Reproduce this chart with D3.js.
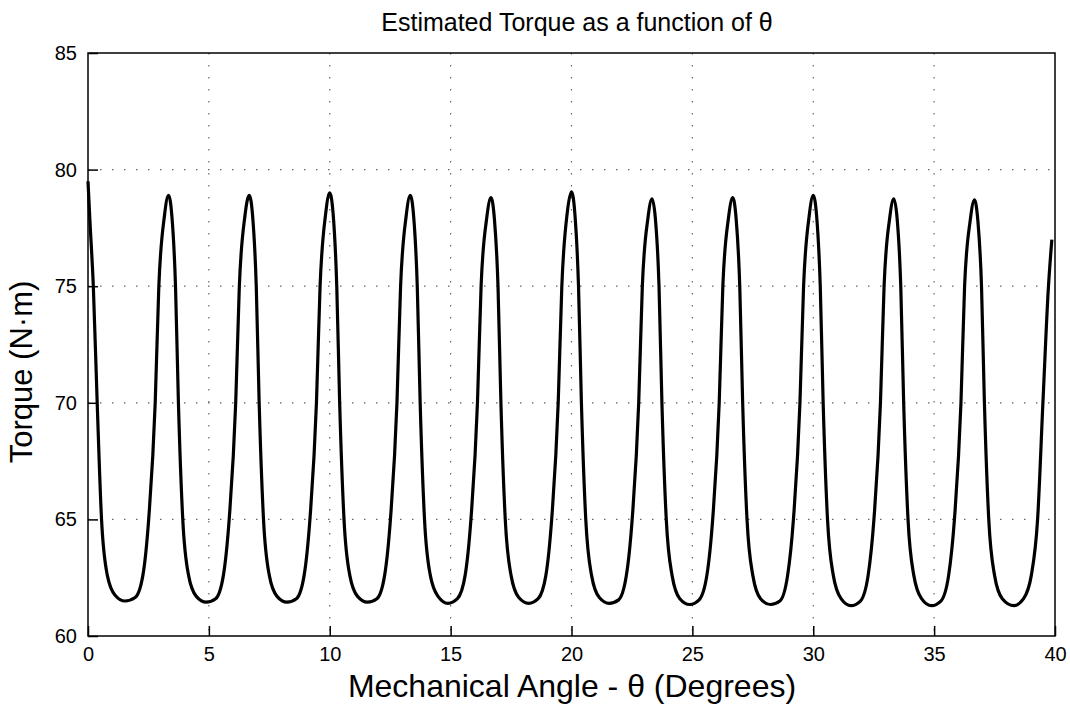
<!DOCTYPE html>
<html>
<head>
<meta charset="utf-8">
<script src="https://cdn.jsdelivr.net/npm/d3@7/dist/d3.min.js"></script>
<style>
body { margin: 0; background: #fff; }
svg { display: block; }
</style>
</head>
<body>
<svg width="1070" height="708"></svg>
<script>
// angle (degrees)
var theta = [
  0.00, 0.08, 0.22, 0.38, 0.56, 0.80, 1.12, 1.53, 1.95, 2.27, 2.51, 2.78, 2.93, 3.16,
  3.33, 3.47, 3.62, 3.74, 3.92, 4.16, 4.48, 4.89, 5.28, 5.60, 5.84, 6.11, 6.26, 6.49,
  6.67, 6.81, 6.96, 7.08, 7.26, 7.50, 7.82, 8.23, 8.62, 8.94, 9.18, 9.45, 9.60, 9.83,
  10.00, 10.14, 10.29, 10.41, 10.59, 10.83, 11.15, 11.56, 11.95, 12.27, 12.51, 12.78, 12.93, 13.16,
  13.33, 13.47, 13.62, 13.74, 13.92, 14.16, 14.48, 14.89, 15.28, 15.60, 15.84, 16.11, 16.26, 16.49,
  16.67, 16.81, 16.96, 17.08, 17.26, 17.50, 17.82, 18.23, 18.62, 18.94, 19.18, 19.45, 19.60, 19.83,
  20.00, 20.14, 20.29, 20.41, 20.59, 20.83, 21.15, 21.56, 21.95, 22.27, 22.51, 22.78, 22.93, 23.16,
  23.33, 23.47, 23.62, 23.74, 23.92, 24.16, 24.48, 24.89, 25.28, 25.60, 25.84, 26.11, 26.26, 26.49,
  26.67, 26.81, 26.96, 27.08, 27.26, 27.50, 27.82, 28.23, 28.62, 28.94, 29.18, 29.45, 29.60, 29.83,
  30.00, 30.14, 30.29, 30.41, 30.59, 30.83, 31.15, 31.56, 31.95, 32.27, 32.51, 32.78, 32.93, 33.16,
  33.33, 33.47, 33.62, 33.74, 33.92, 34.16, 34.48, 34.89, 35.28, 35.60, 35.84, 36.11, 36.26, 36.49,
  36.67, 36.81, 36.96, 37.08, 37.26, 37.50, 37.82, 38.30, 38.70, 39.02, 39.28, 39.50, 39.73, 39.87
];

// estimated torque (N.m)
var torque = [
  79.5, 77.8, 75.0, 70.0, 65.0, 62.6, 61.75, 61.5, 61.65, 62.6, 65.0, 70.0, 75.0, 78.0,
  78.9, 78.0, 75.0, 70.0, 65.0, 62.6, 61.7, 61.45, 61.6, 62.6, 65.0, 70.0, 75.0, 78.0,
  78.9, 78.0, 75.0, 70.0, 65.0, 62.6, 61.7, 61.45, 61.6, 62.6, 65.0, 70.0, 75.0, 78.1,
  79.0, 78.1, 75.0, 70.0, 65.0, 62.6, 61.7, 61.45, 61.6, 62.6, 65.0, 70.0, 75.0, 78.0,
  78.9, 78.0, 75.0, 70.0, 65.0, 62.6, 61.7, 61.4, 61.6, 62.6, 65.0, 70.0, 75.0, 77.9,
  78.8, 77.9, 75.0, 70.0, 65.0, 62.6, 61.65, 61.4, 61.6, 62.6, 65.0, 70.0, 75.0, 78.2,
  79.05, 78.1, 75.0, 70.0, 65.0, 62.6, 61.65, 61.4, 61.55, 62.6, 65.0, 70.0, 75.0, 77.9,
  78.75, 77.9, 75.0, 70.0, 65.0, 62.6, 61.6, 61.35, 61.55, 62.6, 65.0, 70.0, 75.0, 77.9,
  78.8, 77.9, 75.0, 70.0, 65.0, 62.6, 61.6, 61.35, 61.5, 62.6, 65.0, 70.0, 75.0, 78.0,
  78.9, 78.0, 75.0, 70.0, 65.0, 62.6, 61.6, 61.3, 61.5, 62.6, 65.0, 70.0, 75.0, 77.9,
  78.75, 77.9, 75.0, 70.0, 65.0, 62.6, 61.6, 61.3, 61.5, 62.6, 65.0, 70.0, 75.0, 77.8,
  78.7, 77.8, 75.0, 70.0, 65.0, 62.6, 61.6, 61.3, 61.6, 62.6, 65.0, 70.0, 75.0, 77.0
];

var xTicks = [0, 5, 10, 15, 20, 25, 30, 35, 40];
var yTicks = [60, 65, 70, 75, 80, 85];

var svg = d3.select("svg");
var margin = {top: 53, right: 15, bottom: 72, left: 88};
var width = 1070 - margin.left - margin.right;
var height = 708 - margin.top - margin.bottom;
var font = "'Liberation Sans', Arial, sans-serif";

var xScale = d3.scaleLinear().domain([0, 40]).range([0, width]);
var yScale = d3.scaleLinear().domain([60, 85]).range([height, 0]);

var data = theta.map(function(t, i) { return {theta: t, torque: torque[i]}; });

var g = svg.append("g").attr("transform", "translate(" + margin.left + "," + margin.top + ")");

// dotted grid
g.append("g")
  .selectAll("line")
  .data(xTicks.slice(1, -1))
  .enter()
  .append("line")
  .attr("x1", function(d) { return xScale(d); })
  .attr("x2", function(d) { return xScale(d); })
  .attr("y1", 0)
  .attr("y2", height)
  .attr("stroke", "#666")
  .attr("stroke-width", 1.2)
  .attr("stroke-dasharray", "1.5,10.5");

g.append("g")
  .selectAll("line")
  .data(yTicks.slice(1, -1))
  .enter()
  .append("line")
  .attr("y1", function(d) { return yScale(d); })
  .attr("y2", function(d) { return yScale(d); })
  .attr("x1", 0)
  .attr("x2", width)
  .attr("stroke", "#666")
  .attr("stroke-width", 1.2)
  .attr("stroke-dasharray", "1.5,10.5");

// axes with inward ticks
var xAxis = d3.axisBottom(xScale).tickValues(xTicks).tickSizeInner(-10).tickSizeOuter(0).tickPadding(11);
var yAxis = d3.axisLeft(yScale).tickValues(yTicks).tickSizeInner(-10).tickSizeOuter(0).tickPadding(11);

var gx = g.append("g").attr("transform", "translate(0," + height + ")").call(xAxis);
var gy = g.append("g").call(yAxis);

[gx, gy].forEach(function(a) {
  a.select(".domain").remove();
  a.selectAll("line").attr("stroke", "#000").attr("stroke-width", 1.5);
  a.selectAll("text")
    .attr("fill", "#000")
    .style("font-family", font)
    .style("font-size", "20px");
});

// frame
g.append("rect")
  .attr("x", 0)
  .attr("y", 0)
  .attr("width", width)
  .attr("height", height)
  .attr("fill", "none")
  .attr("stroke", "#000")
  .attr("stroke-width", 1.5);

// torque curve
var line = d3.line()
  .x(function(d) { return xScale(d.theta); })
  .y(function(d) { return yScale(d.torque); })
  .curve(d3.curveMonotoneX);

g.append("path")
  .datum(data)
  .attr("d", line)
  .attr("fill", "none")
  .attr("stroke", "#000")
  .attr("stroke-width", 3.2)
  .attr("stroke-linejoin", "round");

// titles
svg.append("text")
  .attr("x", 577)
  .attr("y", 31)
  .style("text-anchor", "middle")
  .style("font-family", font)
  .style("font-size", "25px")
  .text("Estimated Torque as a function of \u03b8");

svg.append("text")
  .attr("x", 572)
  .attr("y", 697)
  .style("text-anchor", "middle")
  .style("font-family", font)
  .style("font-size", "32px")
  .text("Mechanical Angle - \u03b8 (Degrees)");

svg.append("text")
  .attr("transform", "translate(32,372) rotate(-90)")
  .style("text-anchor", "middle")
  .style("font-family", font)
  .style("font-size", "31px")
  .text("Torque (N\u00b7m)");
</script>
</body>
</html>
